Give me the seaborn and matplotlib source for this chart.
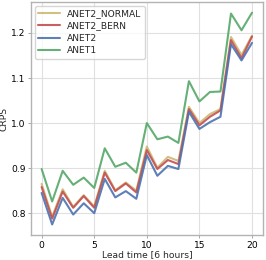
import matplotlib
matplotlib.use('Agg')
import pandas as pd
import matplotlib.pyplot as plt
import seaborn as sns

# Lead times (units of 6 hours)
lead_time = list(range(21))

# CRPS per model
anet2_normal = [0.865, 0.792, 0.853, 0.814, 0.840, 0.815, 0.894, 0.851, 0.868, 0.850,
                0.948, 0.901, 0.925, 0.916, 1.036, 1.000, 1.020, 1.031, 1.191, 1.151, 1.194]
anet2_bern = [0.858, 0.788, 0.848, 0.812, 0.838, 0.812, 0.890, 0.849, 0.866, 0.846,
              0.940, 0.898, 0.918, 0.909, 1.031, 0.995, 1.014, 1.028, 1.184, 1.144, 1.192]
anet2 = [0.845, 0.775, 0.834, 0.797, 0.822, 0.800, 0.876, 0.835, 0.849, 0.832,
         0.929, 0.883, 0.905, 0.898, 1.025, 0.987, 1.002, 1.014, 1.175, 1.139, 1.178]
anet1 = [0.898, 0.826, 0.894, 0.863, 0.879, 0.856, 0.944, 0.903, 0.912, 0.890,
         1.000, 0.964, 0.970, 0.956, 1.093, 1.048, 1.069, 1.070, 1.243, 1.206, 1.245]

models = ['ANET2_NORMAL', 'ANET2_BERN', 'ANET2', 'ANET1']
series = [anet2_normal, anet2_bern, anet2, anet1]

df = pd.concat([
    pd.DataFrame({'lead': lead_time, 'crps': vals, 'model': name})
    for name, vals in zip(models, series)
])

sns.set_style('whitegrid', {'axes.edgecolor': '0.7', 'grid.color': '0.88',
                            'xtick.bottom': True, 'ytick.left': True,
                            'xtick.color': '0.6', 'ytick.color': '0.6'})
plt.rcParams['font.family'] = ['DejaVu Sans']

deep = sns.color_palette('deep')
palette = {'ANET2_NORMAL': deep[8], 'ANET2_BERN': deep[3], 'ANET2': deep[0], 'ANET1': deep[2]}

fs = 6.6
fig, ax = plt.subplots(figsize=(2.66, 2.60), dpi=100)
fig.subplots_adjust(left=0.117, right=0.987, top=0.992, bottom=0.096)

sns.lineplot(data=df, x='lead', y='crps', hue='model', hue_order=models,
             palette=palette, linewidth=1.5, alpha=0.9, ax=ax)

ax.set_xlabel('Lead time [6 hours]', fontsize=fs, labelpad=0.5)
ax.set_ylabel('CRPS', fontsize=fs, labelpad=2)
ax.set_xticks([0, 5, 10, 15, 20])
ax.set_yticks([0.8, 0.9, 1.0, 1.1, 1.2])
ax.tick_params(labelsize=fs, length=2.5, width=0.6, pad=1.5, labelcolor='black')
for s in ax.spines.values():
    s.set_linewidth(1.0)

leg = ax.legend(loc='upper left', fontsize=fs, frameon=True, borderaxespad=0.4,
                handlelength=2.3, labelspacing=0.35)
leg.get_frame().set_edgecolor('0.8')

plt.savefig('out.png', dpi=100)
